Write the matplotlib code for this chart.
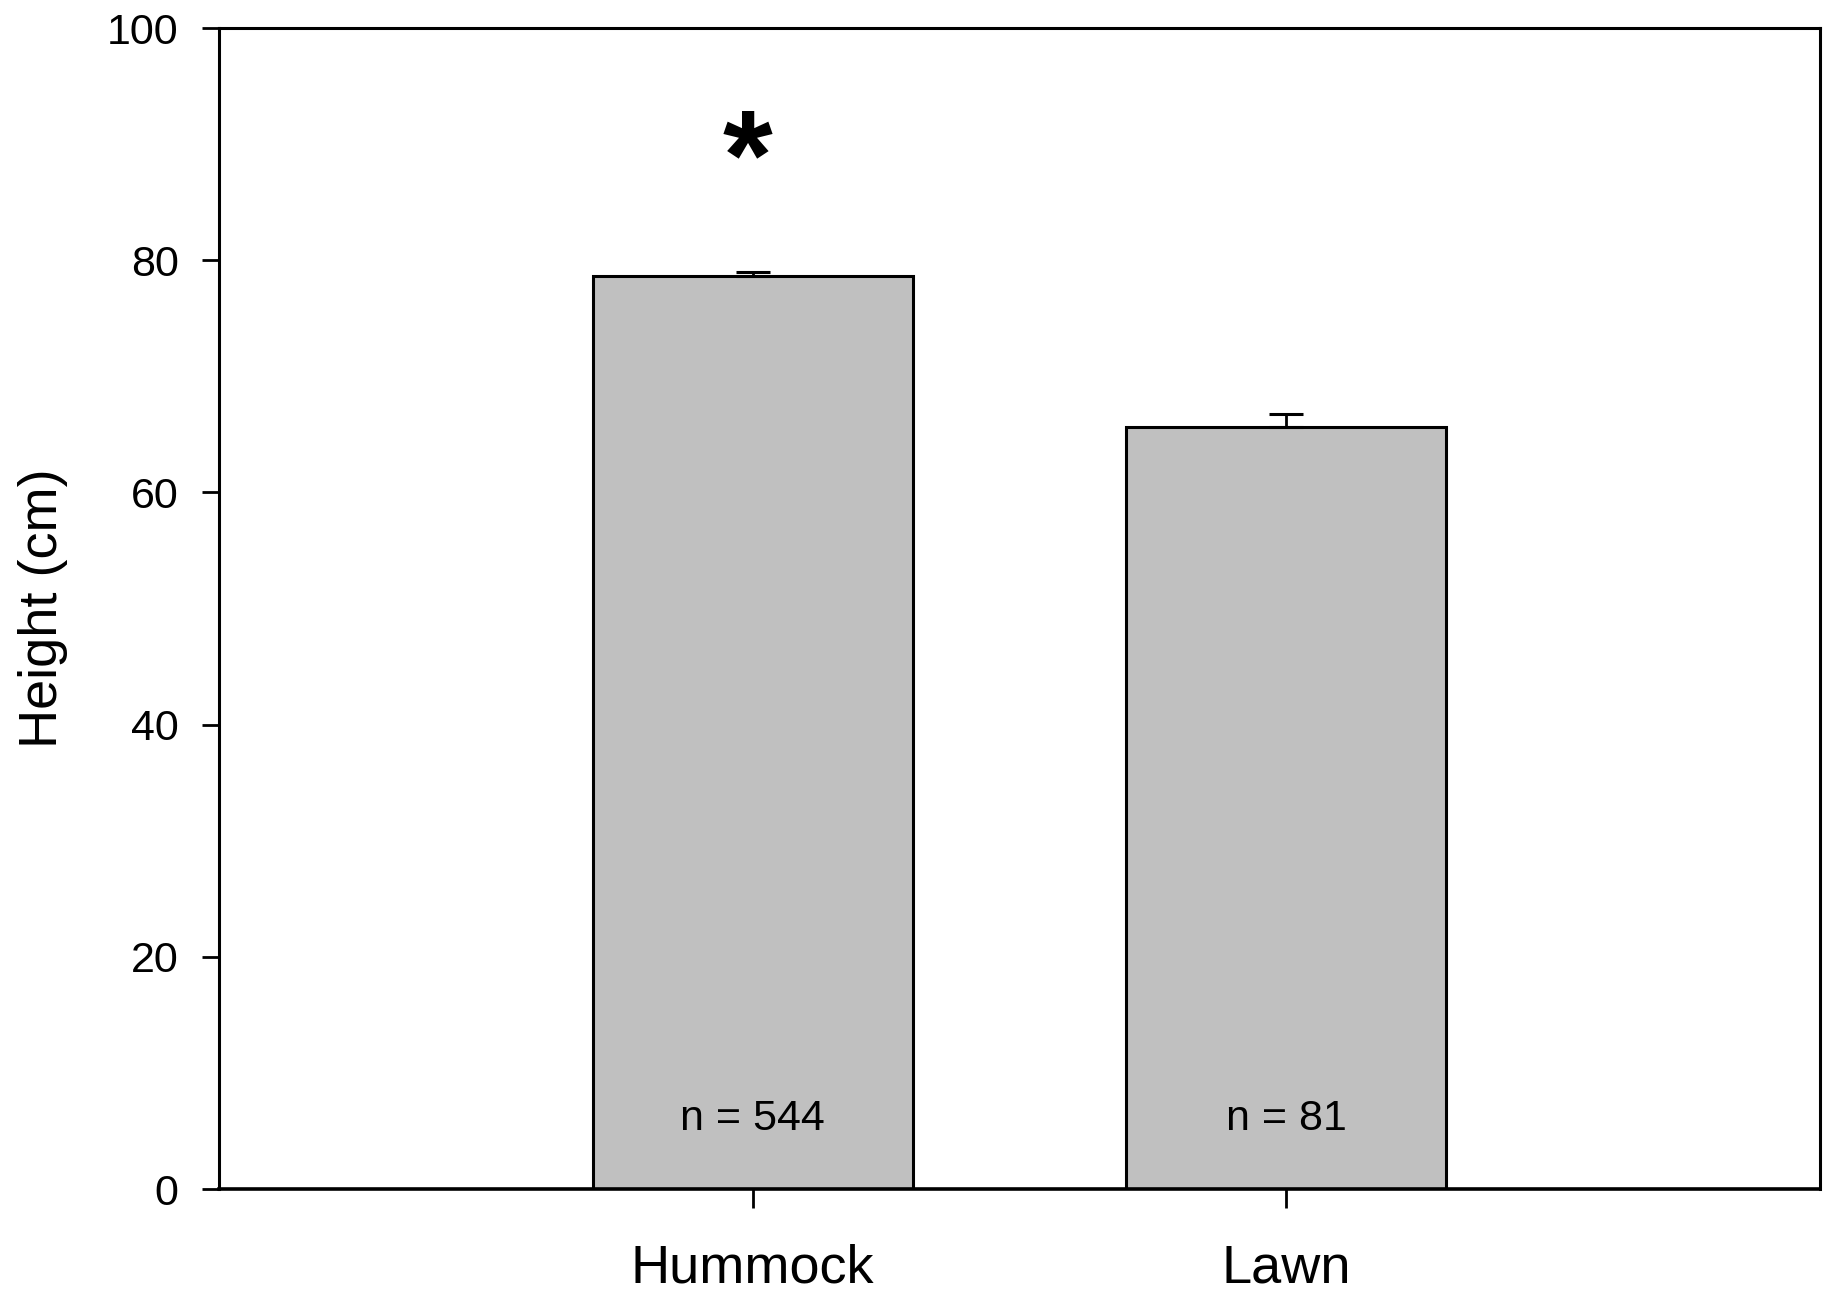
import matplotlib
matplotlib.use("Agg")
import matplotlib.pyplot as plt

# mean height per microsite, upper SE bar, sample size
sites = ["Hummock", "Lawn"]
heights = [78.6, 65.6]
se = [0.4, 1.15]
n_labels = ["n = 544", "n = 81"]

plt.rcParams['font.family'] = ['Liberation Sans', 'DejaVu Sans']

fig = plt.figure(figsize=(18.28, 12.92), dpi=100)
ax = fig.add_axes([0.1198, 0.0797, 0.8758, 0.8986])

xpos = [1, 2]
ax.bar(xpos, heights, width=0.6, color="#c0c0c0", edgecolor="black", linewidth=2.2, zorder=2)
ax.errorbar(xpos, heights, yerr=[[0, 0], se], fmt="none", ecolor="black",
            elinewidth=2.0, capsize=12.5, capthick=2.2, zorder=3)

for x, lab in zip(xpos, n_labels):
    ax.text(x, 6.0, lab, ha="center", va="center", fontsize=31)

# significance marker above hummock
ax.text(xpos[0] - 0.01, 88.2, "*", ha="center", va="center", fontsize=92, fontweight="bold")

ax.set_xlim(0, 3)
ax.set_ylim(0, 100)
ax.set_xticks(xpos)
ax.set_xticklabels(sites)
ax.set_yticks([0, 20, 40, 60, 80, 100])
ax.tick_params(axis="y", direction="out", length=12, width=2, labelsize=31, pad=17)
ax.tick_params(axis="x", direction="out", length=14, width=2, labelsize=39, pad=25)
ax.set_ylabel("Height (cm)", fontsize=39, labelpad=28)

for s in ax.spines.values():
    s.set_linewidth(2.2)
ax.spines["bottom"].set_linewidth(2.6)

fig.savefig("out.png", dpi=100)
